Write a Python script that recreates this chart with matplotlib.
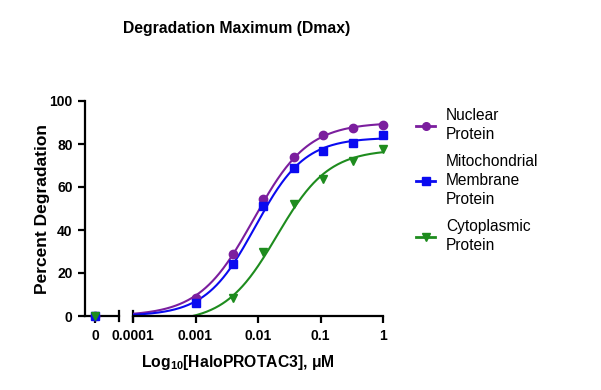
import numpy as np
import matplotlib
matplotlib.use("Agg")
import matplotlib.pyplot as plt
from matplotlib.lines import Line2D

plt.rcParams['font.family'] = ['Liberation Sans', 'DejaVu Sans']
plt.rcParams['mathtext.fontset'] = 'custom'
plt.rcParams['mathtext.rm'] = 'Liberation Sans'
plt.rcParams['mathtext.bf'] = 'Liberation Sans:bold'

# ---- data ----
series_names = ["Nuclear\nProtein", "Mitochondrial\nMembrane\nProtein", "Cytoplasmic\nProtein"]
conc_uM = [0.001, 0.004, 0.012, 0.037, 0.11, 0.33, 1.0]
nuclear = [8.4, 29.0, 54.4, 74.0, 84.0, 87.6, 89.0]
membrane = [6.2, 24.3, 51.0, 69.0, 76.7, 80.3, 84.0]
cytoplasmic = [None, 8.4, 30.0, 52.0, 63.6, 72.0, 77.7]
zero_dose = [0.0, 0.0, 0.0]
# 4-parameter logistic fit parameters: bottom, top, EC50 (uM), hill
fit_bottom = [0.0, 0.0, -3.0]
fit_top = [90.0, 83.0, 77.5]
fit_ec50 = [0.0085, 0.009, 0.02]
fit_hill = [1.0, 1.1, 1.05]
xtick_labels = ["0.0001", "0.001", "0.01", "0.1", "1"]
ytick_vals = [0, 20, 40, 60, 80, 100]

colors = ["#7B1E9E", "#0A0AF0", "#1E8C1E"]
markers = ["o", "s", "v"]
msizes = [6, 6, 5.8]

W, H = 601, 390
fig = plt.figure(figsize=(W / 100, H / 100), dpi=100)

def fx(px):
    return px / W

def fy(py):
    return 1 - py / H

yb, yt = 316, 101
axL = fig.add_axes([fx(85), fy(yb), fx(119) - fx(85), fy(yt) - fy(yb)])
axR = fig.add_axes([fx(133), fy(yb), fx(383) - fx(133), fy(yt) - fy(yb)], sharey=axL)

lw = 1.6
for ax in (axL, axR):
    for s in ("top", "right"):
        ax.spines[s].set_visible(False)
    ax.spines["bottom"].set_linewidth(lw)
    ax.spines["left"].set_linewidth(lw)
    ax.tick_params(width=lw, length=5, labelsize=10, direction="out", pad=4)
axR.spines["left"].set_visible(False)
axR.tick_params(axis="y", left=False, labelleft=False)

axL.set_ylim(0, 100)
axL.set_yticks(ytick_vals)
axL.set_xlim(-0.3, 0.7)
axL.set_xticks([0])
axL.set_xticklabels(["0"])

axR.set_xscale("log")
axR.set_xlim(1e-4, 1)
axR.set_xticks([1e-4, 1e-3, 1e-2, 1e-1, 1])
axR.set_xticklabels(xtick_labels)
axR.minorticks_off()

for lab in axL.get_yticklabels() + axL.get_xticklabels() + axR.get_xticklabels():
    lab.set_fontweight("bold")

# break marks
for ax, xpos in ((axL, 1.0), (axR, 0.0)):
    ax.add_line(Line2D([xpos, xpos], [-0.025, 0.025], transform=ax.transAxes,
                       color="black", lw=lw, clip_on=False))

xs = np.logspace(-4, 0, 300)
all_series = [nuclear, membrane, cytoplasmic]
handles = []
for i, vals in enumerate(all_series):
    c = colors[i]
    b, t, e, h = fit_bottom[i], fit_top[i], fit_ec50[i], fit_hill[i]
    ys = b + (t - b) / (1 + (e / xs) ** h)
    axR.plot(xs, ys, color=c, lw=1.5, zorder=2)
    xv = [x for x, v in zip(conc_uM, vals) if v is not None]
    yv = [v for v in vals if v is not None]
    axR.plot(xv, yv, linestyle="none", marker=markers[i], color=c,
             markersize=msizes[i], clip_on=False, zorder=3)
    axL.plot([0], [zero_dose[i]], linestyle="none", marker=markers[i], color=c,
             markersize=msizes[i], clip_on=False, zorder=3)
    handles.append(Line2D([], [], color=c, lw=2, marker=markers[i], markersize=5.5))

axL.set_ylabel("Percent Degradation", fontsize=12.5, fontweight="bold", labelpad=-0.5)
fig.text(fx(238), fy(363), r"Log$_{\mathbf{10}}$[HaloPROTAC3], μM",
         ha="center", va="center", fontsize=11.3, fontweight="bold")
fig.text(fx(237), fy(28), "Degradation Maximum (Dmax)", ha="center", va="center",
         fontsize=11.3, fontweight="bold")

leg = fig.legend(handles, series_names, loc="upper left",
                 bbox_to_anchor=(fx(410), fy(102)), frameon=False, fontsize=11.2,
                 handlelength=1.2, handletextpad=0.7, labelspacing=0.75, borderaxespad=0)
for t in leg.get_texts():
    t.set_linespacing(1.35)

fig.savefig("out.png", dpi=100)
